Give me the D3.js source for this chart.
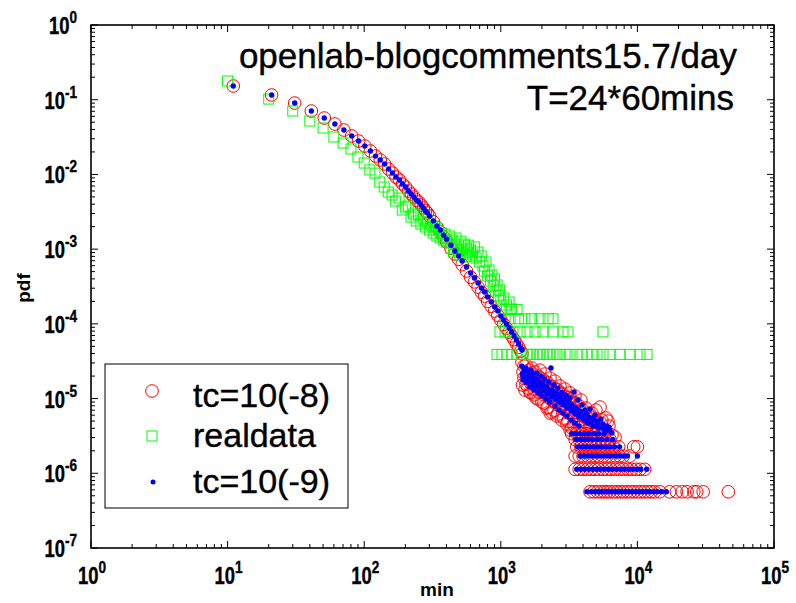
<!DOCTYPE html>
<html><head><meta charset="utf-8">
<script src="https://cdn.jsdelivr.net/npm/d3@7"></script>
<style>body{margin:0;background:#fff}svg{display:block}</style>
</head><body><svg id="c" width="796" height="603"></svg>
<script>
// ---------------- DATA ----------------
const xTickExp = ["0","1","2","3","4","5"];
const yTickExp = ["0","-1","-2","-3","-4","-5","-6","-7"];
const legendLabels = ["tc=10(-8)", "realdata", "tc=10(-9)"];
const titleLines = ["openlab-blogcomments15.7/day", "T=24*60mins"];

// smooth part of the model curves (min, pdf)
const curveX = [11,21,31,41,51,61,71,81,91,101,111,121,131,141,151,161,171,181,191,201,211,221,231,241,251,261,271,281,291,301,
  321,341,361,381,401,431,461,491,521,561,601,641,681,721,761,801,851,901,951,1001,1051,1101,1151,1201,1251,1301,1351,1401,1431];
const tc9CurveY = [0.1526,0.1156,0.0903,0.0706,0.0569,0.0473,0.0393,0.0327,0.0280,0.0240,0.0206,0.0176,0.0156,0.0138,0.0118,0.01045,0.00923,
  0.00841,0.00744,0.00678,0.00600,0.00547,0.00499,0.00454,0.00427,0.00389,0.00355,0.00324,0.00304,0.00277,
  0.00238,0.00204,0.00180,0.00154,0.00136,0.00113,0.000943,0.000809,0.000693,0.000576,0.000479,0.000410,0.000352,0.000301,0.000267,0.000229,
  0.000196,0.000168,0.000149,0.000127,0.000112,0.0000994,0.0000879,0.0000777,0.0000687,0.0000607,0.0000537,0.0000474,0.0000446];
const tc8CurveY = [0.1526,0.1156,0.0903,0.0706,0.0569,0.0473,0.0393,0.0327,0.0280,0.0240,0.0206,0.0176,0.0156,0.0138,0.0118,0.01045,0.00923,
  0.00841,0.00744,0.00678,0.00600,0.00547,0.00499,0.00454,0.00427,0.00389,0.00355,0.00324,0.00304,0.00277,
  0.00232,0.00196,0.00170,0.00146,0.00126,0.00103,0.000860,0.000730,0.000620,0.000510,0.000420,0.000365,0.000310,0.000265,0.000235,0.000200,
  0.000172,0.000148,0.000130,0.000112,0.0000985,0.0000870,0.0000775,0.0000690,0.0000615,0.0000545,0.0000485,0.0000430,0.0000400];

// scattered part after T (min, pdf)
const tc9Cloud = [[1429,2.72e-5],[1435,2.13e-5],[1453,1.77e-5],[1478,2.40e-5],[1503,1.94e-5],[1529,2.56e-5],[1555,1.61e-5],[1581,2.26e-5],
  [1608,2.00e-5],[1635,1.43e-5],[1663,2.40e-5],[1691,1.77e-5],[1720,2.13e-5],[1749,1.30e-5],[1779,1.88e-5],[1809,1.56e-5],[1840,2.19e-5],
  [1871,1.19e-5],[1903,1.71e-5],[1935,1.43e-5],[1968,2.00e-5],[2001,1.08e-5],[2035,1.56e-5],[2070,1.30e-5],[2105,1.82e-5],[2141,9.85e-6],
  [2177,1.43e-5],[2214,1.19e-5],[2252,1.66e-5],[2290,8.98e-6],[2329,2.56e-5],[2369,1.30e-5],[2409,1.08e-5],[2450,1.52e-5],[2491,7.93e-6],
  [2534,1.19e-5],[2577,9.85e-6],[2620,1.38e-5],[2665,7.01e-6],[2710,1.08e-5],[2756,8.98e-6],[2803,1.22e-5],[2851,6.39e-6],[2899,9.85e-6],
  [2948,8.18e-6],[2998,1.12e-5],[3049,5.83e-6],[3101,8.98e-6],[3154,7.46e-6],[3208,1.02e-5],[3262,5.15e-6],[3318,8.18e-6],[3374,6.80e-6],
  [3431,1.22e-5],[3490,4.70e-6],[3549,7.46e-6],[3609,6.20e-6],[3671,9.55e-6],[3733,4.28e-6],[3797,6.80e-6],[3861,5.65e-6],[3927,8.18e-6],
  [4061,5.15e-6],[4130,7.01e-6],[4272,6.20e-6],[4345,4.70e-6],[4494,7.23e-6],[4648,5.48e-6],[4727,4.28e-6],[4889,6.01e-6],[5057,4.99e-6],
  [5230,4.03e-6],[5410,5.31e-6],[5595,4.55e-6],[5787,3.91e-6],[5985,4.28e-6],[6296,3.79e-6],[6512,3.45e-6],
  [1453,2.00e-5],[1503,2.26e-5],[1555,1.88e-5],[1608,1.71e-5],[1663,2.06e-5],[1720,1.56e-5],[1779,1.47e-5],[1840,1.77e-5],[1903,1.38e-5],
  [1968,1.61e-5],[2035,1.26e-5],[2105,1.43e-5],[2177,1.15e-5],[2252,1.30e-5],[2329,1.05e-5],[2409,1.22e-5],[2491,9.85e-6],[2577,1.15e-5],
  [2665,8.98e-6],[2756,1.05e-5],[2851,8.18e-6],[2948,9.55e-6],[3049,7.46e-6],[3154,8.71e-6],[3262,6.80e-6],[3374,7.93e-6],[3490,6.20e-6],
  [3609,7.23e-6],[3733,5.65e-6],[3861,6.59e-6],[3993,5.31e-6],[4130,6.01e-6],[4272,4.99e-6],[4418,5.65e-6],[4570,4.70e-6],[4808,5.15e-6],
  [4970,4.28e-6],[5140,4.70e-6],[5500,4.03e-6],[5890,3.67e-6],[6190,4.15e-6]];
const tc8Cloud = [[1429,3.08e-5],[1440,1.52e-5],[1453,2.26e-5],[1478,1.88e-5],[1503,1.30e-5],[1529,2.80e-5],[1555,2.06e-5],[1581,1.38e-5],
  [1608,2.40e-5],[1635,1.66e-5],[1663,1.19e-5],[1691,2.56e-5],[1720,1.88e-5],[1749,1.34e-5],[1779,2.26e-5],[1809,1.02e-5],[1840,1.61e-5],
  [1871,2.00e-5],[1903,1.22e-5],[1935,2.40e-5],[1968,1.47e-5],[2001,8.98e-6],[2035,1.82e-5],[2070,1.12e-5],[2105,2.13e-5],[2141,1.34e-5],
  [2177,7.46e-6],[2214,1.61e-5],[2252,1.02e-5],[2290,1.88e-5],[2300,6.39e-6],[2329,1.22e-5],[2369,6.59e-6],[2409,1.43e-5],[2450,8.98e-6],
  [2491,1.71e-5],[2534,1.08e-5],[2577,5.83e-6],[2620,1.30e-5],[2665,8.18e-6],[2710,1.47e-5],[2756,9.55e-6],[2803,5.15e-6],[2851,1.15e-5],
  [2899,7.23e-6],[2948,1.34e-5],[2998,8.44e-6],[3049,4.55e-6],[3101,1.02e-5],[3154,6.39e-6],[3208,1.19e-5],[3220,3.79e-6],[3262,7.46e-6],
  [3318,4.03e-6],[3374,8.98e-6],[3431,5.65e-6],[3490,1.08e-5],[3549,6.59e-6],[3671,3.56e-6],[3733,7.93e-6],[3797,5.15e-6],[3861,9.55e-6],
  [3993,5.83e-6],[4130,4.41e-6],[4200,7.46e-6],[4345,5.48e-6],[4494,4.03e-6],[4648,6.39e-6],[4808,4.85e-6],[4970,7.01e-6],[5140,4.28e-6],
  [5325,7.69e-6],[5500,5.15e-6],[5690,3.79e-6],[5890,5.48e-6],[6190,4.28e-6],[6512,3.25e-6],[6860,3.05e-6],
  [1478,2.72e-5],[1529,1.56e-5],[1581,1.94e-5],[1635,1.22e-5],[1691,2.19e-5],[1749,1.12e-5],[1809,1.77e-5],[1871,9.85e-6],[1935,1.88e-5],
  [2001,1.30e-5],[2070,8.71e-6],[2141,1.66e-5],[2214,7.69e-6],[2290,1.47e-5],[2369,9.55e-6],[2450,7.01e-6],[2534,1.34e-5],[2620,6.20e-6],
  [2710,1.19e-5],[2803,8.18e-6],[2899,5.48e-6],[2998,1.05e-5],[3101,4.99e-6],[3208,9.26e-6],[3318,6.39e-6],[3431,4.41e-6],[3549,8.71e-6],
  [3671,5.31e-6],[3797,4.15e-6],[3927,7.23e-6],[4061,4.85e-6],[4200,3.67e-6],[4345,6.39e-6],[4494,4.55e-6],[4727,5.48e-6],[5057,3.79e-6],
  [5410,4.70e-6],[5787,3.45e-6],[6087,4.99e-6]];

// quantised tail rows of the models (pdf level, min values on that level)
const modelLevelY = [5.65e-7, 1.13e-6, 1.70e-6, 2.26e-6, 2.83e-6, 3.39e-6];
const tc8LevelX = [
  [4500,4800,5100,5400,5700,6000,6300,6700,7100,7500,7900,8400,8900,9400,10000,10600,11200,11900,12600,13400,14600,17200,19300,21300,23100,25900,27200,30300,46300],
  [3500,3750,4000,4300,4600,4900,5200,5600,6000,6400,6900,7400,7900,8500,9100,9800,10500,11300],
  [3500,3750,4000,4300,4600,4900,5200,5600,6000,6400,6900,7400,7900,8800],
  [3600,3850,4100,4400,4700,5000,5400,5800,6200,6700,7300,9400,10000],
  [3500,3750,4000,4300,4600,5000,5400,5800,6300],
  [3300,3600,3900,4200,4600,5000,5500]];
const tc9LevelX = [
  [4270,4600,4900,5200,5500,5800,6100,6500,6900,7300,7700,8200,8700,9200,9800,10400,11000,11700,12400,13200,14000,15000,16300],
  [3600,3850,4100,4400,4700,5000,5300,5700,6100,6500,7000,7500,8000,8600,9200,9900,10600,11700],
  [3800,4050,4300,4600,4900,5200,5600,6000,6400,6900,7400,7900,8400,10000],
  [3650,3900,4150,4450,4750,5050,5450,5850,6300,6800,7400],
  [3550,3800,4050,4350,4700,5100,5500,6000,6600],
  [3300,3550,3800,4100,4400,4800,5200,5700]];

// real data (min, pdf)
const realX = [10,20,30,40,50,60,70,80,90,100,110,120,130,140,150,160,
  170,180,190,200,210,220,230,240,250,260,270,280,290,300,310,320,330,340,350,360,370,380,390,400,
  410,420,430,440,450,460,470,480,490,500,510,520,530,540,550,560,570,580,590,600,
  620,640,660,680,700,720,740,760,780,800,820,840,860,880,900,920,940,960,980,1000,1050,1100,1150,1200];
const realY = [0.178,0.102,0.0706,0.0519,0.0418,0.0317,0.0263,0.0219,0.0171,0.0142,0.0115,0.0104,0.00791,0.00678,0.00581,0.00530,
  0.00440,0.00483,0.00334,0.00366,0.00377,0.00269,0.00295,0.00238,0.00286,0.00217,0.00253,0.00198,0.00231,0.00180,0.00210,0.00164,
  0.00198,0.00150,0.00180,0.00141,0.00164,0.00132,0.00159,0.00124,
  0.001245,0.00150,0.00103,0.00132,0.000915,0.00117,0.00141,0.000973,0.00110,0.000834,0.00128,0.00100,0.000887,0.00117,0.000784,0.00103,
  0.000915,0.00113,0.000809,0.000973,
  0.000859,0.00107,0.000760,0.000915,0.000672,0.000809,0.000594,0.000509,0.000672,0.000436,0.000525,0.000374,0.000450,0.000321,0.000398,
  0.000275,0.000331,0.000236,0.000283,0.000208,0.000221,0.000179,0.000196,0.000158];
const realLevelY = [3.9e-5, 7.8e-5, 1.17e-4, 1.56e-4];
const realLevelX = [
  [938,1020,1110,1207,1314,1429,1555,1636,1720,1841,1936,2036,2179,2291,2410,2577,2712,2951,3211,3614,3930,4276,4652,5061,5600,6300,7460,8830,10450,11760],
  [986,1074,1228,1383,1555,1780,2036,2410,2853,3104,5600],
  [1074,1170,1350,1500,1680,1936,2220,2410],
  [1074,1170,1314]];

// ---------------- BUILD ----------------
const tc8 = curveX.map((v,i)=>[v,tc8CurveY[i]]).concat(tc8Cloud);
tc8LevelX.forEach((xs,k)=>xs.forEach(v=>tc8.push([v,modelLevelY[k]])));
const tc9 = curveX.map((v,i)=>[v,tc9CurveY[i]]).concat(tc9Cloud);
tc9LevelX.forEach((xs,k)=>xs.forEach(v=>tc9.push([v,modelLevelY[k]])));
const real = realX.map((v,i)=>[v,realY[i]]);
realLevelX.forEach((xs,k)=>xs.forEach(v=>real.push([v,realLevelY[k]])));

const L=91,R=774,T=25,B=548;
const svg = d3.select('#c');
const x = d3.scaleLog().domain([1,1e5]).range([L,R]);
const y = d3.scaleLog().domain([1e-7,1]).range([B,T]);
const FONT = "'Liberation Sans', Arial, Helvetica, sans-serif";

svg.append('rect').attr('width',796).attr('height',603).attr('fill','#fff');

// markers
const plot = svg.append('g');
plot.append('g').selectAll('circle').data(tc8).join('circle')
  .attr('cx',d=>x(d[0])).attr('cy',d=>y(d[1])).attr('r',6.3)
  .attr('fill','none').attr('stroke','#ff0000').attr('stroke-width',1);
plot.append('g').selectAll('rect').data(real).join('rect')
  .attr('x',d=>x(d[0])-5).attr('y',d=>y(d[1])-5).attr('width',10).attr('height',10)
  .attr('fill','none').attr('stroke','#00ff00').attr('stroke-width',1);
plot.append('g').selectAll('circle').data(tc9).join('circle')
  .attr('cx',d=>x(d[0])).attr('cy',d=>y(d[1])).attr('r',2.7).attr('fill','#0000ff');

// frame and ticks
const isMajor = t => Math.abs(Math.log10(t)-Math.round(Math.log10(t)))<1e-9;
const tk = svg.append('g').attr('stroke','#000').attr('stroke-width',1);
x.ticks().forEach(t=>{
  const len = isMajor(t)?7:4, px=x(t);
  tk.append('line').attr('x1',px).attr('x2',px).attr('y1',B).attr('y2',B-len);
  tk.append('line').attr('x1',px).attr('x2',px).attr('y1',T).attr('y2',T+len);
});
y.ticks().forEach(t=>{
  const len = isMajor(t)?7:4, py=y(t);
  tk.append('line').attr('y1',py).attr('y2',py).attr('x1',L).attr('x2',L+len);
  tk.append('line').attr('y1',py).attr('y2',py).attr('x1',R).attr('x2',R-len);
});
svg.append('rect').attr('x',L).attr('y',T).attr('width',R-L).attr('height',B-T)
  .attr('fill','none').attr('stroke','#000').attr('stroke-width',1.6);

// tick labels
function powLabel(g, px, py, exp, anchor){
  const gg = g.append('g').attr('transform',`translate(${px},${py}) scale(0.8,1)`);
  const t = gg.append('text').attr('text-anchor',anchor).attr('font-family',FONT)
    .attr('font-weight','bold').attr('font-size',23).attr('fill','#000')
    .attr('stroke','#000').attr('stroke-width',0.4);
  t.append('tspan').text('10');
  t.append('tspan').attr('font-size',17).attr('dy',-11).text(exp);
}
const lab = svg.append('g');
[1,10,100,1000,10000,100000].forEach((v,i)=>powLabel(lab, x(v)+1, 584, xTickExp[i], 'middle'));
[1,1e-1,1e-2,1e-3,1e-4,1e-5,1e-6,1e-7].forEach((v,i)=>powLabel(lab, 77, y(v)+9, yTickExp[i], 'end'));

// axis titles
svg.append('text').attr('x',437).attr('y',596).attr('text-anchor','middle')
  .attr('font-family',FONT).attr('font-weight','bold').attr('font-size',19).text('min');
svg.append('text').attr('transform','translate(30,288) rotate(-90)').attr('text-anchor','middle')
  .attr('font-family',FONT).attr('font-weight','bold').attr('font-size',19).text('pdf');

// title
svg.append('text').attr('x',737).attr('y',68).attr('text-anchor','end')
  .attr('font-family',FONT).attr('font-size',35).attr('stroke','#000').attr('stroke-width',0.4).text(titleLines[0]);
svg.append('text').attr('x',734).attr('y',110).attr('text-anchor','end')
  .attr('font-family',FONT).attr('font-size',35).attr('stroke','#000').attr('stroke-width',0.4).text(titleLines[1]);

// legend
const lg = svg.append('g');
lg.append('rect').attr('x',105).attr('y',364).attr('width',243).attr('height',144)
  .attr('fill','#fff').attr('stroke','#000').attr('stroke-width',1);
lg.append('circle').attr('cx',152).attr('cy',391).attr('r',6.3).attr('fill','none').attr('stroke','#ff0000');
lg.append('rect').attr('x',147).attr('y',431).attr('width',10).attr('height',10).attr('fill','none').attr('stroke','#00ff00');
lg.append('circle').attr('cx',153).attr('cy',482).attr('r',2.5).attr('fill','#0000ff');
[407,447,493].forEach((by,i)=>lg.append('text').attr('x',193).attr('y',by)
  .attr('font-family',FONT).attr('font-size',34).attr('stroke','#000').attr('stroke-width',0.4).text(legendLabels[i]));
</script></body></html>
